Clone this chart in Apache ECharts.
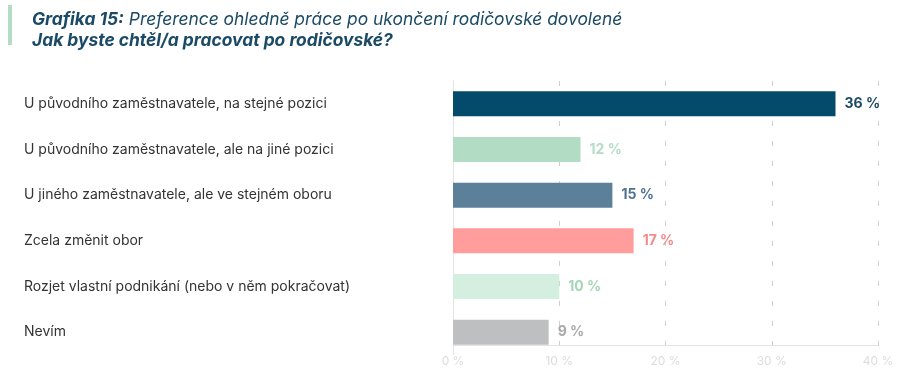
<!DOCTYPE html>
<html><head><meta charset="utf-8">
<script src="https://cdn.jsdelivr.net/npm/echarts@6/dist/echarts.min.js"></script>
<style>html,body{margin:0;padding:0;background:#fff}#c{width:902px;height:374px}</style>
</head><body><div id="c"></div>
<script>
const categories = [
  "U původního zaměstnavatele, na stejné pozici",
  "U původního zaměstnavatele, ale na jiné pozici",
  "U jiného zaměstnavatele, ale ve stejném oboru",
  "Zcela změnit obor",
  "Rozjet vlastní podnikání (nebo v něm pokračovat)",
  "Nevím"
];
const values = [36, 12, 15, 17, 10, 9];
const barColors = ["#044a6b", "#b3dcc4", "#5c7f9a", "#ff9c9c", "#d4efdf", "#bebfc1"];
const labelColors = ["#1b4a66", "#b3dcc4", "#4f7290", "#f58a8a", "#a5d6b8", "#a9aaac"];
const titleBold = "Grafika 15:";
const titleRest = " Preference ohledně práce po ukončení rodičovské dovolené";
const subtitle = "Jak byste chtěl/a pracovat po rodičovské?";

const chart = echarts.init(document.getElementById('c'));
const font = "Inter";
chart.setOption({
  animation: false,
  graphic: [{type:'rect', shape:{x:8,y:5,width:4,height:40}, style:{fill:'#b3dcc4'}}],
  title: {
    left: 27, top: 4,
    text: '{b|' + titleBold + '}{n|' + titleRest + '}\n{b|' + subtitle + '}',
    textStyle: {
      rich: {
        b: {fontFamily: font, fontSize: 17.4, fontStyle: 'italic', fontWeight: 'bold', color: '#1b4a66', lineHeight: 21},
        n: {fontFamily: font, fontSize: 17.4, fontStyle: 'italic', fontWeight: 'normal', color: '#1b4a66', lineHeight: 21}
      }
    }
  },
  grid: {left: 453, right: 24, top: 81, bottom: 19, containLabel: false},
  xAxis: {
    type: 'value', min: 0, max: 40, interval: 10, offset: -10,
    axisLine: {show: true, lineStyle: {color: '#e3e3e3'}},
    axisTick: {show: false},
    splitLine: {show: true, lineStyle: {color: '#cfcfcf', type: [5, 15]}},
    axisLabel: {formatter: '{value} %', color: '#dcdcdc', fontFamily: font, fontSize: 12, margin: 10}
  },
  yAxis: {
    type: 'category', data: categories, inverse: true,
    axisLine: {show: true, lineStyle: {color: '#e3e3e3'}},
    axisTick: {show: false},
    axisLabel: {align: 'left', margin: 429, color: '#333', fontFamily: font, fontSize: 14}
  },
  series: [{
    type: 'bar', barWidth: 25,
    data: values.map((v, i) => ({
      value: v,
      itemStyle: {color: barColors[i]},
      label: {color: labelColors[i]}
    })),
    label: {show: true, position: 'right', distance: 9, formatter: '{c} %', fontFamily: font, fontSize: 14, fontWeight: 'bold'}
  }]
});
</script></body></html>
